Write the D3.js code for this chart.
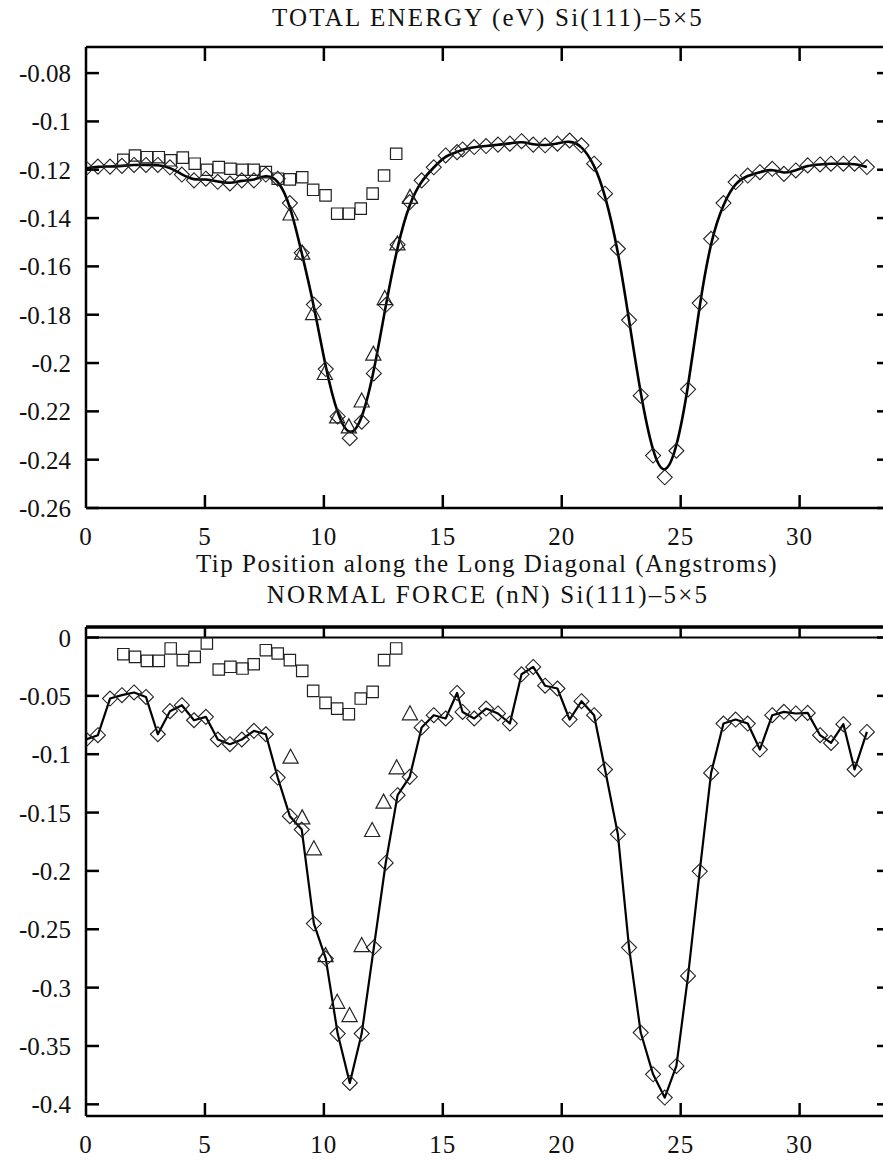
<!DOCTYPE html>
<html>
<head>
<meta charset="utf-8">
<script src="https://cdn.jsdelivr.net/npm/d3@7"></script>
<style>
  body { margin: 0; background: #fff; }
  svg text { font-family: "Liberation Serif", "Times New Roman", serif; fill: #111; }
</style>
</head>
<body>
<div id="chart"></div>
<script>
// tip positions along the long diagonal (shared by the diamond series)
const tipX = [0, 0.5, 1.01, 1.51, 2.02, 2.52, 3.02, 3.53, 4.03, 4.54,
  5.04, 5.54, 6.05, 6.55, 7.06, 7.56, 8.06, 8.57, 9.07, 9.58,
  10.08, 10.58, 11.09, 11.59, 12.1, 12.6, 13.1, 13.61, 14.11, 14.62,
  15.12, 15.6, 15.83, 16.32, 16.82, 17.32, 17.82, 18.31, 18.8, 19.3,
  19.82, 20.33, 20.83, 21.36, 21.82, 22.36, 22.83, 23.32, 23.84, 24.33,
  24.82, 25.31, 25.8, 26.28, 26.8, 27.31, 27.82, 28.33, 28.85, 29.34,
  29.84, 30.34, 30.86, 31.32, 31.84, 32.31, 32.83];

const energyDiamond = [-0.1194, -0.1187, -0.1187, -0.1184, -0.118, -0.118, -0.118, -0.119, -0.122, -0.1244,
  -0.1237, -0.125, -0.1257, -0.1244, -0.1244, -0.122, -0.1237, -0.1338, -0.1544, -0.1758,
  -0.2025, -0.2221, -0.2311, -0.2243, -0.2043, -0.176, -0.151, -0.1334, -0.1244, -0.119,
  -0.1141, -0.1127, -0.1116, -0.1106, -0.1102, -0.1096, -0.1092, -0.1082, -0.1096, -0.1099,
  -0.1092, -0.1079, -0.1099, -0.1175, -0.1299, -0.1527, -0.1822, -0.2135, -0.2383, -0.2473,
  -0.2363, -0.2109, -0.1752, -0.1486, -0.1338, -0.1251, -0.1224, -0.121, -0.1196, -0.1217,
  -0.1203, -0.1182, -0.1178, -0.1175, -0.1175, -0.1175, -0.1189];

const forceDiamond = [-0.0874, -0.0837, -0.0523, -0.0494, -0.0471, -0.0509, -0.0829, -0.0631, -0.058, -0.0709,
  -0.068, -0.0874, -0.0914, -0.0874, -0.08, -0.0829, -0.12, -0.1531, -0.1646, -0.2451,
  -0.2751, -0.3394, -0.3817, -0.3394, -0.2657, -0.1932, -0.1351, -0.1194, -0.0771, -0.0666,
  -0.0694, -0.0475, -0.0638, -0.0694, -0.0609, -0.0651, -0.0737, -0.0315, -0.0252, -0.0413,
  -0.0437, -0.0703, -0.0546, -0.0666, -0.1131, -0.1686, -0.2657, -0.3385, -0.3743, -0.3942,
  -0.3671, -0.29, -0.2003, -0.116, -0.0737, -0.0703, -0.0737, -0.096, -0.0666, -0.0637,
  -0.0651, -0.0646, -0.0837, -0.0903, -0.0743, -0.1131, -0.0809];

// square series
const squareX = [1.57, 2.06, 2.56, 3.06, 3.56, 4.07, 4.57, 5.08, 5.58, 6.07, 6.58, 7.05,
  7.56, 8.06, 8.57, 9.09, 9.55, 10.07, 10.56, 11.05, 11.55, 12.05, 12.53, 13.04];
const energySquare = [-0.1159, -0.1141, -0.1148, -0.1148, -0.1161, -0.115, -0.1175, -0.12, -0.1189, -0.1196, -0.12, -0.12,
  -0.121, -0.1237, -0.124, -0.1231, -0.1283, -0.1306, -0.1382, -0.1382, -0.1361, -0.1299, -0.1224, -0.1134];
const forceSquare = [-0.0143, -0.0166, -0.02, -0.02, -0.0094, -0.0194, -0.0166, -0.0051, -0.0274, -0.0251, -0.0266, -0.0229,
  -0.0109, -0.0137, -0.0194, -0.0286, -0.0457, -0.056, -0.0609, -0.0657, -0.0523, -0.0466, -0.0194, -0.0094];

// triangle series
const energyTriX = [8.6, 9.09, 9.55, 10.04, 10.56, 11.05, 11.59, 12.08, 12.56, 13.09, 13.62];
const energyTri = [-0.1382, -0.1544, -0.1794, -0.2042, -0.2222, -0.2263, -0.2156, -0.1962, -0.1732, -0.1506, -0.1313];
const forceTriX = [8.6, 9.09, 9.58, 10.07, 10.56, 11.08, 11.59, 12.03, 12.51, 13.06, 13.62];
const forceTri = [-0.1023, -0.1543, -0.1808, -0.2723, -0.3123, -0.3237, -0.2637, -0.1651, -0.1408, -0.1114, -0.0651];

// ticks
const xTicks = [0, 5, 10, 15, 20, 25, 30];
const energyTicks = [-0.26, -0.24, -0.22, -0.2, -0.18, -0.16, -0.14, -0.12, -0.1, -0.08];
const energyTickLabels = ["-0.26", "-0.24", "-0.22", "-0.2", "-0.18", "-0.16", "-0.14", "-0.12", "-0.1", "-0.08"];
const forceTicks = [-0.4, -0.35, -0.3, -0.25, -0.2, -0.15, -0.1, -0.05, 0];
const forceTickLabels = ["-0.4", "-0.35", "-0.3", "-0.25", "-0.2", "-0.15", "-0.1", "-0.05", "0"];

const W = 883, H = 1160;
const left = 86, right = 890;

const svg = d3.select("#chart").append("svg")
    .attr("width", W)
    .attr("height", H);

const x = d3.scaleLinear().domain([0, 33.8]).range([left, right]);

function zip(xs, ys) {
    return xs.map((v, i) => ({ x: v, y: ys[i] }));
}

function diamond(r) { return `M0,${-r}L${r},0L0,${r}L${-r},0Z`; }
function square(s) { return `M${-s},${-s}H${s}V${s}H${-s}Z`; }
function triangle(w, h) { return `M0,${-h * 0.55}L${w},${h * 0.45}L${-w},${h * 0.45}Z`; }

function drawPanel(opt) {
    const y = d3.scaleLinear().domain(opt.yDomain).range([opt.bottom, opt.top]);
    const g = svg.append("g");

    // title
    g.append("text")
        .attr("x", (left + right) / 2)
        .attr("y", opt.titleY)
        .attr("text-anchor", "middle")
        .style("font-size", "25px")
        .style("letter-spacing", "2.2px")
        .text(opt.title);

    const clipId = "clip" + opt.id;
    g.append("clipPath").attr("id", clipId)
        .append("rect")
        .attr("x", left).attr("y", opt.top - 10)
        .attr("width", right - left).attr("height", opt.bottom - opt.top + 10);

    // frame
    g.append("line").attr("x1", left).attr("x2", W).attr("y1", opt.top).attr("y2", opt.top)
        .attr("stroke", "#000").attr("stroke-width", opt.topWidth);
    g.append("line").attr("x1", left).attr("x2", W).attr("y1", opt.bottom).attr("y2", opt.bottom)
        .attr("stroke", "#000").attr("stroke-width", 2.5);
    g.append("line").attr("x1", left).attr("x2", left).attr("y1", opt.top).attr("y2", opt.bottom)
        .attr("stroke", "#000").attr("stroke-width", 2.5);
    g.append("line").attr("x1", right).attr("x2", right).attr("y1", opt.top).attr("y2", opt.bottom)
        .attr("stroke", "#000").attr("stroke-width", 2.5);

    if (opt.zeroLine) {
        g.append("line").attr("x1", left).attr("x2", W).attr("y1", y(0)).attr("y2", y(0))
            .attr("stroke", "#000").attr("stroke-width", 2);
    }

    // x ticks, bottom and top
    xTicks.filter(t => t > 0).forEach(t => {
        g.append("line").attr("x1", x(t)).attr("x2", x(t))
            .attr("y1", opt.bottom).attr("y2", opt.bottom - 13)
            .attr("stroke", "#000").attr("stroke-width", 2.5);
        g.append("line").attr("x1", x(t)).attr("x2", x(t))
            .attr("y1", opt.top).attr("y2", opt.top + opt.topTick)
            .attr("stroke", "#000").attr("stroke-width", 2.5);
    });
    g.selectAll(".xlab").data(xTicks).enter().append("text")
        .attr("x", d => x(d))
        .attr("y", opt.bottom + 37)
        .attr("text-anchor", "middle")
        .style("font-size", "25px")
        .style("letter-spacing", "1px")
        .text(d => d);

    // y ticks, left and right
    opt.yTicks.forEach((t, i) => {
        g.append("line").attr("x1", left).attr("x2", left + 13)
            .attr("y1", y(t)).attr("y2", y(t))
            .attr("stroke", "#000").attr("stroke-width", 2.5);
        g.append("line").attr("x1", right).attr("x2", right - 13)
            .attr("y1", y(t)).attr("y2", y(t))
            .attr("stroke", "#000").attr("stroke-width", 2.5);
        g.append("text")
            .attr("x", 71)
            .attr("y", y(t) + 9)
            .attr("text-anchor", "end")
            .style("font-size", "25px")
            .text(opt.yLabels[i]);
    });

    const plot = g.append("g").attr("clip-path", `url(#${clipId})`);

    const diam = zip(tipX, opt.diamond);
    const line = d3.line()
        .x(d => x(d.x))
        .y(d => y(d.y))
        .curve(opt.curve);

    plot.append("path")
        .datum(diam)
        .attr("fill", "none")
        .attr("stroke", "#000")
        .attr("stroke-width", opt.lineWidth)
        .attr("stroke-linejoin", "round")
        .attr("d", line);

    plot.selectAll(".sq").data(zip(squareX, opt.square)).enter().append("path")
        .attr("transform", d => `translate(${x(d.x)},${y(d.y)})`)
        .attr("d", square(5.7))
        .attr("fill", "none").attr("stroke", "#222").attr("stroke-width", 1.2);

    plot.selectAll(".tr").data(zip(opt.triX, opt.tri)).enter().append("path")
        .attr("transform", d => `translate(${x(d.x)},${y(d.y)})`)
        .attr("d", triangle(7.6, 14))
        .attr("fill", "none").attr("stroke", "#222").attr("stroke-width", 1.2);

    plot.selectAll(".dm").data(diam).enter().append("path")
        .attr("transform", d => `translate(${x(d.x)},${y(d.y)})`)
        .attr("d", diamond(7.5))
        .attr("fill", "none").attr("stroke", "#222").attr("stroke-width", 1.1);

    return y;
}

drawPanel({
    id: "e",
    title: "TOTAL ENERGY (eV) Si(111)\u20135\u00d75",
    titleY: 26,
    top: 47, bottom: 508,
    yDomain: [-0.26, -0.0692],
    yTicks: energyTicks, yLabels: energyTickLabels,
    diamond: energyDiamond, square: energySquare,
    triX: energyTriX, tri: energyTri,
    curve: d3.curveBasis, lineWidth: 2.6,
    topWidth: 2.5, topTick: 14, zeroLine: false
});

svg.append("text")
    .attr("x", (left + right) / 2 - 1)
    .attr("y", 572)
    .attr("text-anchor", "middle")
    .style("font-size", "25px")
    .style("letter-spacing", "1.5px")
    .text("Tip Position along the Long Diagonal (Angstroms)");

drawPanel({
    id: "f",
    title: "NORMAL FORCE (nN) Si(111)\u20135\u00d75",
    titleY: 603,
    top: 627, bottom: 1116,
    yDomain: [-0.41, 0.009],
    yTicks: forceTicks, yLabels: forceTickLabels,
    diamond: forceDiamond, square: forceSquare,
    triX: forceTriX, tri: forceTri,
    curve: d3.curveLinear, lineWidth: 2.2,
    topWidth: 3.5, topTick: 10, zeroLine: true
});
</script>
</body>
</html>
